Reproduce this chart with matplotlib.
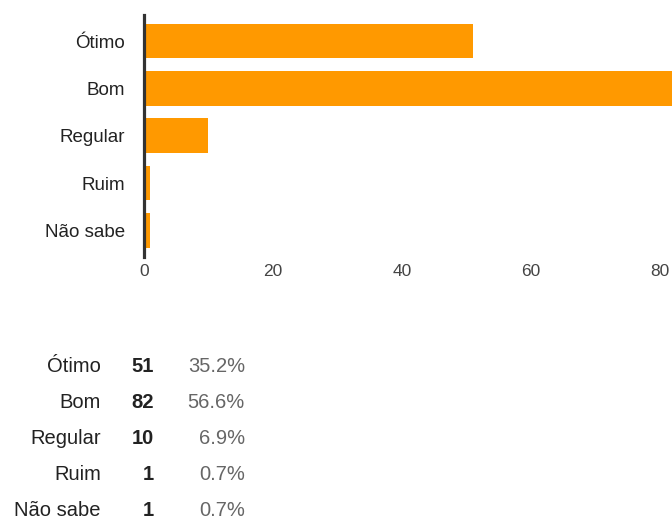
import matplotlib
matplotlib.use("Agg")
import matplotlib.pyplot as plt

categories = ["Ótimo", "Bom", "Regular", "Ruim", "Não sabe"]
counts = [51, 82, 10, 1, 1]
x_ticks = [0, 20, 40, 60, 80]

BAR_COLOR = "#FF9900"
TEXT_COLOR = "#222222"
PCT_COLOR = "#666666"

plt.rcParams["font.family"] = ["Liberation Sans", "DejaVu Sans"]

W, H = 672, 521
fig = plt.figure(figsize=(W / 100, H / 100), dpi=100)

# bar chart area (pixel box converted to figure fractions)
left_px, right_px, top_px, bottom_px = 144, 672, 15, 257
ax = fig.add_axes([left_px / W, 1 - bottom_px / H,
                   (right_px - left_px) / W, (bottom_px - top_px) / H])

ypos = list(range(len(categories)))
ax.barh(ypos, counts, height=0.73, color=BAR_COLOR, zorder=2)
ax.set_yticks(ypos)
ax.set_yticklabels(categories)
ax.set_ylim(len(categories) - 0.44, -0.55)
ax.set_xlim(0, 81.9)
ax.set_xticks(x_ticks)
ax.set_xticklabels([str(t) for t in x_ticks])

for side in ["top", "right", "bottom"]:
    ax.spines[side].set_visible(False)
ax.spines["left"].set_linewidth(2.3)
ax.spines["left"].set_color("#333333")
ax.spines["left"].set_zorder(3)

ax.tick_params(axis="y", length=0, pad=13.5, labelsize=13.5, labelcolor=TEXT_COLOR)
ax.tick_params(axis="x", length=0, pad=5, labelsize=12.5, labelcolor="#444444")

# summary table below the chart
total = sum(counts)
first_row, row_step = 366, 36.25
for i, (cat, n) in enumerate(zip(categories, counts)):
    fy = 1 - (first_row + i * row_step) / H
    fig.text(101 / W, fy, cat, ha="right", va="center", fontsize=14.5, color=TEXT_COLOR)
    fig.text(154 / W, fy, str(n), ha="right", va="center", fontsize=14.5,
             color=TEXT_COLOR, fontweight="bold")
    fig.text(245 / W, fy, f"{n / total * 100:.1f}%", ha="right", va="center",
             fontsize=14.5, color=PCT_COLOR)

fig.savefig("out.png", dpi=100)
